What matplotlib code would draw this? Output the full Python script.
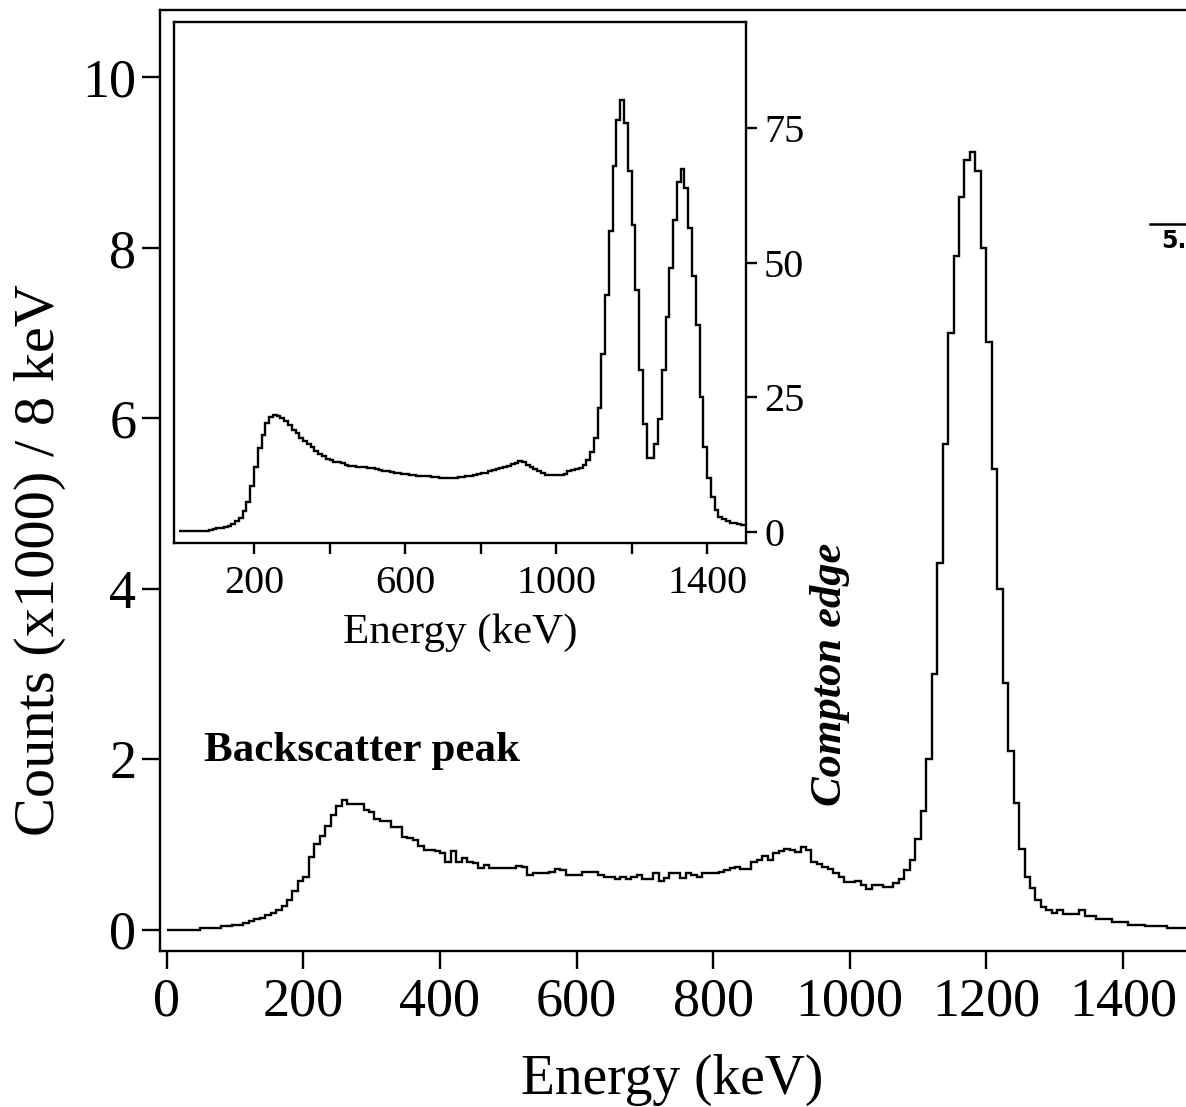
import numpy as np
import matplotlib
matplotlib.use("Agg")
import matplotlib.pyplot as plt
from matplotlib.lines import Line2D

plt.rcParams['font.family'] = ['Liberation Serif', 'DejaVu Serif']

# ---------------- data ----------------
# main spectrum: counts (x1000) per 8 keV bin, bins starting at 0 keV
main_bin_width = 8
main_start = 0
main_counts = [
    0.00, 0.00, 0.00, 0.00, 0.00, 0.00, 0.02, 0.02, 0.02, 0.02,   # 0-72
    0.04, 0.04, 0.05, 0.06, 0.08, 0.10, 0.12, 0.14, 0.17, 0.20,   # 80-152
    0.23, 0.28, 0.35, 0.45, 0.57, 0.62, 0.85, 1.00, 1.10, 1.22,   # 160-232
    1.35, 1.45, 1.52, 1.47, 1.47, 1.47, 1.41, 1.38, 1.30, 1.28,   # 240-312
    1.27, 1.21, 1.20, 1.09, 1.07, 1.05, 0.98, 0.94, 0.93, 0.92,   # 320-392
    0.90, 0.80, 0.92, 0.80, 0.84, 0.80, 0.78, 0.72, 0.76, 0.72,   # 400-472
    0.72, 0.72, 0.72, 0.72, 0.75, 0.73, 0.64, 0.66, 0.66, 0.66,   # 480-552
    0.68, 0.71, 0.70, 0.64, 0.64, 0.64, 0.68, 0.68, 0.68, 0.64,   # 560-632
    0.62, 0.62, 0.59, 0.62, 0.59, 0.62, 0.64, 0.59, 0.59, 0.66,   # 640-712
    0.57, 0.61, 0.67, 0.66, 0.61, 0.66, 0.64, 0.62, 0.66, 0.66,   # 720-792
    0.66, 0.68, 0.70, 0.72, 0.74, 0.71, 0.71, 0.80, 0.82, 0.86,   # 800-872
    0.82, 0.90, 0.92, 0.95, 0.94, 0.91, 0.97, 0.94, 0.79, 0.77,   # 880-952
    0.74, 0.71, 0.66, 0.62, 0.56, 0.56, 0.57, 0.52, 0.48, 0.52,   # 960-1032
    0.52, 0.50, 0.50, 0.55, 0.60, 0.70, 0.82, 1.06, 1.39, 2.00,   # 1040-1112
    3.00, 4.30, 5.70, 7.00, 7.90, 8.60, 9.03, 9.12, 8.90, 8.00,   # 1120-1192
    6.90, 5.40, 4.00, 2.90, 2.10, 1.49, 0.95, 0.62, 0.49, 0.35,   # 1200-1272
    0.27, 0.23, 0.20, 0.23, 0.18, 0.18, 0.18, 0.23, 0.16, 0.16,   # 1280-1352
    0.13, 0.13, 0.13, 0.09, 0.09, 0.09, 0.05, 0.05, 0.05, 0.04,   # 1360-1432
    0.04, 0.04, 0.04, 0.02, 0.02, 0.02, 0.02, 0.02, 0.02,         # 1440-1504
]

# inset spectrum: counts per 10 keV bin, bins starting at 0 keV
inset_bin_width = 10
inset_start = 0
inset_counts = [
    0.2, 0.2, 0.2, 0.2, 0.2, 0.2, 0.2, 0.2, 0.4, 0.5,            # 0-90
    0.6, 0.7, 0.8, 1.1, 1.4, 1.9, 2.6, 3.8, 5.5, 8.5,            # 100-190
    12.0, 15.5, 18.0, 20.2, 21.3, 21.7, 21.6, 21.1, 20.5, 19.8,  # 200-290
    19.0, 18.3, 17.5, 16.9, 16.3, 15.7, 15.0, 14.4, 14.0, 13.6,  # 300-390
    13.3, 13.0, 12.9, 12.7, 12.5, 12.3, 12.2, 12.1, 12.0, 12.0,  # 400-490
    11.9, 11.8, 11.6, 11.4, 11.3, 11.2, 11.1, 11.0, 10.9, 10.8,  # 500-590
    10.7, 10.6, 10.5, 10.4, 10.4, 10.3, 10.3, 10.2, 10.1, 10.0,  # 600-690
    10.0, 10.0, 10.0, 10.0, 10.1, 10.2, 10.3, 10.4, 10.5, 10.7,  # 700-790
    10.9, 11.0, 11.2, 11.4, 11.7, 11.9, 12.1, 12.3, 12.6, 12.8,  # 800-890
    13.1, 12.9, 12.5, 12.0, 11.6, 11.2, 10.9, 10.6, 10.5, 10.5,  # 900-990
    10.5, 10.6, 10.8, 11.2, 11.4, 11.6, 11.9, 12.5, 13.3, 14.8,  # 1000-1090
    17.5, 23.0, 33.0, 44.0, 56.0, 68.0, 76.5, 80.2, 76.0, 67.0,  # 1100-1190
    57.0, 45.0, 30.0, 20.0, 13.8, 13.8, 16.3, 21.0, 30.0, 40.0,  # 1200-1290
    49.0, 58.0, 65.0, 67.5, 64.0, 56.5, 47.5, 38.5, 25.0, 15.7,  # 1300-1390
    10.0, 6.5, 4.0, 2.8, 2.3, 1.9, 1.7, 1.6, 1.5, 1.3,           # 1400-1490
]

main_xticks = [0, 200, 400, 600, 800, 1000, 1200, 1400]
main_yticks = [0, 2, 4, 6, 8, 10]
inset_xticks_major = [200, 600, 1000, 1400]
inset_xticks_minor = [400, 800, 1200]
inset_yticks = [0, 25, 50, 75]

# ---------------- figure ----------------
W, H = 1186, 1107
fig = plt.figure(figsize=(W / 100, H / 100), dpi=100)

def fx(px):
    return px / W

def fy(py):
    return 1 - py / H

lw_axis = 1.7
lw_data = 1.7

# main axes (right part extends beyond the picture edge)
ax = fig.add_axes([fx(160), fy(951), fx(1198) - fx(160), fy(10) - fy(951)])
edges = main_start + main_bin_width * np.arange(len(main_counts) + 1)
ax.stairs(main_counts, edges, color='black', linewidth=lw_data, baseline=None)
ax.set_xlim(-10, 1510)
ax.set_ylim(-0.25, 10.79)
ax.set_xticks(main_xticks)
ax.set_yticks(main_yticks)
ax.set_xticklabels([str(t) for t in main_xticks])
ax.set_yticklabels([str(t) for t in main_yticks])
ax.tick_params(direction='out', length=13, width=lw_axis, labelsize=39)
ax.tick_params(axis='x', pad=6)
ax.tick_params(axis='y', pad=4)
for s in ['left', 'bottom', 'top']:
    ax.spines[s].set_linewidth(lw_axis)
ax.spines['right'].set_visible(False)

fig.text(fx(672), fy(1080), 'Energy (keV)', fontsize=40, ha='center', va='center')
fig.text(fx(40), fy(560), 'Counts (x1000) / 8 keV', fontsize=42, ha='center',
         va='center', rotation=90)

ax.text(55, 2.1, 'Backscatter peak', fontsize=31, fontweight='bold',
        ha='left', va='center')
ax.text(971, 3.0, 'Compton edge', fontsize=32, fontweight='bold', style='italic',
        ha='center', va='center', rotation=90)

# inset
axi = fig.add_axes([fx(174), fy(543), fx(746) - fx(174), fy(22) - fy(543)])
iedges = inset_start + inset_bin_width * np.arange(len(inset_counts) + 1)
axi.stairs(inset_counts, iedges, color='black', linewidth=lw_data, baseline=None)
axi.set_xlim(-12, 1503)
axi.set_ylim(-2.1, 94.8)
axi.set_xticks(inset_xticks_major)
axi.set_xticks(inset_xticks_minor, minor=True)
axi.set_xticklabels([str(t) for t in inset_xticks_major])
axi.yaxis.tick_right()
axi.set_yticks(inset_yticks)
axi.set_yticklabels([str(t) for t in inset_yticks])
axi.tick_params(which='both', direction='out', length=8, width=lw_axis, labelsize=29)
axi.tick_params(axis='x', pad=8)
axi.tick_params(axis='y', pad=5)
for s in axi.spines.values():
    s.set_linewidth(lw_axis)
axi.set_xlabel('Energy (keV)', fontsize=31, labelpad=8)

# stray label from neighbouring panel at the right edge
fig.text(fx(1161), fy(248), '5.', fontsize=17, fontweight='bold',
         family='DejaVu Sans', ha='left', va='baseline')
fig.add_artist(Line2D([fx(1150), fx(1190)], [fy(224), fy(224)], color='black',
                      linewidth=1.8, transform=fig.transFigure))

fig.savefig('out.png', dpi=100)
